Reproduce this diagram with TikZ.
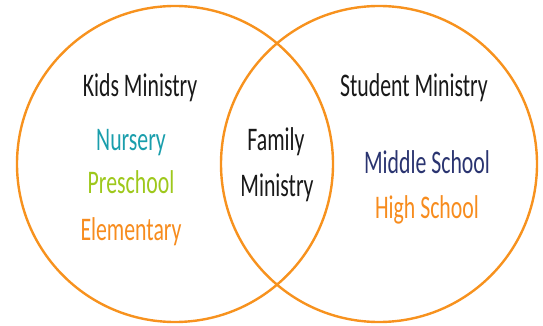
\documentclass[tikz,border=0pt]{standalone}
\usepackage{fontspec}
\newfontfamily\hand[FakeStretch=0.66]{Carlito}
\definecolor{ring}{RGB}{247,146,30}
\definecolor{inkblack}{RGB}{25,25,25}
\definecolor{teal}{RGB}{26,158,172}
\definecolor{lime}{RGB}{158,200,28}
\definecolor{navy}{RGB}{42,52,112}
\definecolor{orangetext}{RGB}{247,140,30}
\begin{document}
\begin{tikzpicture}[x=1pt,y=-1pt,
  ringstyle/.style={circle,draw=ring,line width=2.4pt,minimum size=316pt,inner sep=0pt,outer sep=0pt},
  label/.style={anchor=base,inner sep=0pt,font=\hand\fontsize{33}{33}\selectfont}]
\useasboundingbox (0,0) rectangle (543,326);
\node[ringstyle] (left) at (175,164) {};
\node[ringstyle] (right) at (379,164) {};
\node[label,text=inkblack] (kids) at (140,97) {Kids Ministry};
\node[label,text=teal] (nursery) at (131,150) {Nursery};
\node[label,text=lime] (preschool) at (131,193) {Preschool};
\node[label,text=orangetext] (elementary) at (131,240) {Elementary};
\node[label,text=inkblack] (family) at (276,150) {Family};
\node[label,text=inkblack] (familymin) at (277,196) {Ministry};
\node[label,text=inkblack] (student) at (414,97) {Student Ministry};
\node[label,text=navy] (middle) at (427,173) {Middle School};
\node[label,text=orangetext] (high) at (427,218) {High School};
\end{tikzpicture}
\end{document}
